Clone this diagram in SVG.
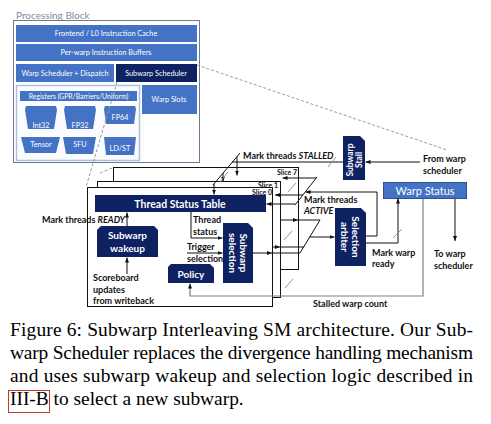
<svg xmlns="http://www.w3.org/2000/svg" width="491" height="424" viewBox="0 0 491 424">
<defs>
<marker id="arr" viewBox="0 0 10 10" refX="10" refY="5" markerWidth="5" markerHeight="5" markerUnits="userSpaceOnUse" orient="auto"><path d="M0,1 L10,5 L0,9 z" fill="#111"/></marker>
<marker id="arrg" viewBox="0 0 10 10" refX="10" refY="5" markerWidth="5" markerHeight="5" markerUnits="userSpaceOnUse" orient="auto"><path d="M0,1 L10,5 L0,9 z" fill="#111"/></marker>
<style>
.bar{fill:#4472C4;}
.navy{fill:#0E2160;}
.wt{fill:#fff;font-family:Lato,"Liberation Sans",sans-serif;font-size:7.3px;text-anchor:middle;}
.wb{fill:#fff;font-family:Lato,"Liberation Sans",sans-serif;font-weight:bold;text-anchor:middle;}
.lbl{fill:#111;font-family:Lato,"Liberation Sans",sans-serif;font-size:9px;font-weight:bold;}
.sl{fill:#111;font-family:Lato,"Liberation Sans",sans-serif;font-size:7px;font-weight:bold;}
.ln{fill:none;stroke:#111;stroke-width:1;}
.lg{fill:none;stroke:#808080;stroke-width:1.2;}
.bus{stroke:#8a8a8a;stroke-width:0.9;}
.dash{fill:none;stroke:#9a9a9a;stroke-width:1;stroke-dasharray:3,2;}
.box{fill:#fff;stroke:#111;stroke-width:1;}
.cap{fill:#000;font-family:"Liberation Serif","Times New Roman",serif;font-size:19.4px;}
</style>
</defs>
<rect width="491" height="424" fill="#fff"/>

<!-- Processing block -->
<g id="processing-block">
<text x="16" y="19" style="fill:#7d8aa3;font-family:Lato,'Liberation Sans',sans-serif;font-size:10px;">Processing Block</text>
<rect x="13.5" y="20.5" width="186" height="142" fill="#fff" stroke="#6b7a96" stroke-width="1"/>
</g>
<g id="frontend"><rect class="bar" x="16" y="25" width="181" height="17"/><text class="wt" x="106" y="36">Frontend / L0 Instruction Cache</text></g>
<g id="inst-buffers"><rect class="bar" x="16" y="44" width="181" height="17"/><text class="wt" x="106" y="55">Per-warp Instruction Buffers</text></g>
<g id="warp-scheduler"><rect class="bar" x="16" y="64" width="98" height="18"/><text class="wt" x="65" y="75.5">Warp Scheduler + Dispatch</text></g>
<g id="subwarp-scheduler"><rect class="navy" x="116" y="64" width="81" height="18"/><text class="wt" x="156" y="75.5">Subwarp Scheduler</text></g>
<g id="warp-slots"><rect class="bar" x="142" y="85" width="55" height="29"/><text class="wt" x="169" y="101.5">Warp Slots</text></g>
<g id="registers-box"><rect x="16.5" y="85.5" width="123" height="75" fill="#fbfcfe" stroke="#aebfdd" stroke-width="1.5"/></g>
<g id="registers"><rect class="bar" x="20" y="91" width="117" height="10"/><text class="wt" x="78.5" y="98.5" style="font-size:6.8px">Registers (GPR/Barriers/Uniform)</text></g>
<g id="int32"><polygon class="bar" points="26,106 56,106 57,110 54,129 28,129 25,110"/><text class="wt" x="41" y="127.5">Int32</text></g>
<g id="fp32"><polygon class="bar" points="65,106 95,106 96,110 93,129 67,129 64,110"/><text class="wt" x="80" y="127.5">FP32</text></g>
<g id="fp64"><polygon class="bar" points="105,106 135,106 136,109 134,124 106,124 104,109"/><text class="wt" x="120" y="119.5">FP64</text></g>
<g id="tensor"><polygon class="bar" points="21,137 60,137 56,153 25,153"/><text class="wt" x="41" y="146.5">Tensor</text></g>
<g id="sfu"><polygon class="bar" points="63,137 96,137 93,154 66,154"/><text class="wt" x="80" y="146.5">SFU</text></g>
<g id="ldst"><polygon class="bar" points="104,137 136,137 134,155 106,155"/><text class="wt" x="120" y="150.5">LD/ST</text></g>

<!-- Slices -->
<g id="slice-7"><rect class="box" x="113.5" y="167.5" width="185" height="102"/><text class="sl" x="277" y="175">Slice 7</text></g>
<g id="slice-1"><rect class="box" x="97.5" y="181.5" width="183" height="116"/><text class="sl" x="258" y="187.5">Slice 1</text></g>
<g id="slice-0"><rect class="box" x="87.5" y="187.5" width="185" height="119"/><text class="sl" x="252" y="194.5">Slice 0</text></g>

<g id="thread-status-table"><rect class="navy" x="95" y="195" width="171" height="17"/><text class="wb" x="180" y="207.5" style="font-size:10.5px">Thread Status Table</text></g>
<g id="subwarp-wakeup"><path class="navy" d="M101,226 H154 L158,230 V257 H97 V230 Z"/><text class="wb" style="font-size:10px"><tspan x="127.5" y="239">Subwarp</tspan><tspan x="127.5" y="252">wakeup</tspan></text></g>
<g id="policy"><path class="navy" d="M171,264 H210 L214,268 V283 H168 V267 Z"/><text class="wb" x="191" y="277.5" style="font-size:10px">Policy</text></g>
<g id="subwarp-selection"><path class="navy" d="M223,223 H248 L253,228 V283 H223 Z"/><text class="wb" style="font-size:10px" transform="translate(238,253) rotate(90)"><tspan x="0" y="-1.5">Subwarp</tspan><tspan x="0" y="9.5">selection</tspan></text></g>
<g id="selection-arbiter"><path class="navy" d="M335,208 H361 L366,213 V266 H335 Z"/><text class="wb" style="font-size:10px" transform="translate(350.5,237) rotate(90)"><tspan x="0" y="-1.5">Selection</tspan><tspan x="0" y="9.5">arbiter</tspan></text></g>
<g id="subwarp-stall"><path class="navy" d="M343,136 H360 L365,141 V180 H343 Z"/><text class="wb" style="font-size:8.5px" transform="translate(354,160) rotate(-90)"><tspan x="0" y="-1">Subwarp</tspan><tspan x="0" y="8">Stall</tspan></text></g>
<g id="warp-status"><rect x="383.5" y="182.5" width="83" height="16" fill="#4472C4" stroke="#2f528f" stroke-width="1"/><text class="wb" x="425" y="194.5" style="font-size:11px;font-weight:normal">Warp Status</text></g>

<!-- Connectors -->
<g id="connectors">
<line class="dash" x1="197" y1="65" x2="447" y2="150"/>
<line class="dash" x1="117" y1="82" x2="86" y2="187"/>
<line class="dash" x1="100" y1="173" x2="112" y2="168"/>

<line class="ln" x1="127" y1="226" x2="127" y2="212.5" marker-end="url(#arr)"/>
<line class="ln" x1="127" y1="274" x2="127" y2="257.5" marker-end="url(#arr)"/>
<path class="ln" d="M191,212 V238 H222.5" marker-end="url(#arr)"/>
<line class="ln" x1="187" y1="253" x2="222.5" y2="253" marker-end="url(#arr)"/>
<path class="lg" d="M423,199 V296 H190 V283.5" marker-end="url(#arrg)"/>

<!-- selection outputs -->
<line class="ln" x1="253" y1="253" x2="272" y2="253" marker-end="url(#arr)"/>
<line class="ln" x1="272" y1="253" x2="300" y2="253"/>
<line class="ln" x1="273" y1="247" x2="280" y2="247" marker-end="url(#arr)"/>
<line class="ln" x1="280" y1="247" x2="304" y2="247"/>
<line class="ln" x1="281" y1="220" x2="298" y2="220" marker-end="url(#arr)"/>
<line class="ln" x1="298" y1="220" x2="320" y2="220"/>
<line class="ln" x1="300" y1="253" x2="320" y2="220"/>
<line class="ln" x1="310" y1="237" x2="334.5" y2="237" marker-end="url(#arr)"/>
<line class="bus" x1="284" y1="240" x2="292" y2="231"/>
<line class="bus" x1="285" y1="288" x2="293" y2="279"/>

<!-- mark active -->
<path class="ln" d="M366,236 H377 V192 H305.5" marker-end="url(#arr)"/>
<line class="ln" x1="295" y1="205" x2="317" y2="177"/>
<line class="ln" x1="316" y1="178" x2="282.5" y2="178" marker-end="url(#arr)"/>
<line class="ln" x1="303" y1="195" x2="275" y2="195" marker-end="url(#arr)"/>
<line class="ln" x1="295" y1="204" x2="266.5" y2="204" marker-end="url(#arr)"/>
<line class="bus" x1="288" y1="192" x2="296" y2="183"/>

<!-- warp ready / warp status -->
<path class="ln" d="M366,243 H398 V198.5" marker-end="url(#arr)"/>
<line class="bus" x1="393" y1="238" x2="402" y2="229"/>
<line class="ln" x1="455" y1="199" x2="455" y2="241" marker-end="url(#arr)"/>
<line class="ln" x1="420" y1="162" x2="365.5" y2="162" marker-end="url(#arr)"/>

<!-- mark stalled -->
<line class="ln" x1="343" y1="162" x2="232" y2="162"/>
<line class="ln" x1="240" y1="153" x2="213" y2="185"/>
<line class="ln" x1="237" y1="156.5" x2="237" y2="175.5" marker-end="url(#arr)"/>
<line class="ln" x1="223" y1="173" x2="223" y2="181.5" marker-end="url(#arr)"/>
<line class="ln" x1="214" y1="184" x2="214" y2="194.5" marker-end="url(#arr)"/>
<line class="bus" x1="220" y1="182" x2="228" y2="172"/>
<line class="bus" x1="328" y1="167" x2="336" y2="157"/>
</g>

<!-- Labels -->
<g id="labels">
<text class="lbl" x="243" y="159">Mark threads <tspan font-style="italic">STALLED</tspan></text>
<text class="lbl" x="423" y="162">From warp</text>
<text class="lbl" x="423" y="173.5">scheduler</text>
<text class="lbl" x="304" y="203">Mark threads</text>
<text class="lbl" x="304" y="214" font-style="italic">ACTIVE</text>
<text class="lbl" x="42" y="223">Mark threads <tspan font-style="italic">READY</tspan></text>
<text class="lbl" x="193" y="223">Thread</text>
<text class="lbl" x="193" y="235">status</text>
<text class="lbl" x="187" y="250">Trigger</text>
<text class="lbl" x="187" y="262">selection</text>
<text class="lbl" x="93" y="281">Scoreboard</text>
<text class="lbl" x="93" y="292.5">updates</text>
<text class="lbl" x="93" y="304">from writeback</text>
<text class="lbl" x="372" y="256">Mark warp</text>
<text class="lbl" x="372" y="267">ready</text>
<text class="lbl" x="434" y="257">To warp</text>
<text class="lbl" x="434" y="268.5">scheduler</text>
<text class="lbl" x="313" y="307">Stalled warp count</text>
</g>

<!-- Caption -->
<g id="caption">
<text class="cap" x="10" y="335.5" textLength="463" lengthAdjust="spacing">Figure 6: Subwarp Interleaving SM architecture. Our Sub-</text>
<text class="cap" x="10" y="358.5" textLength="463" lengthAdjust="spacing">warp Scheduler replaces the divergence handling mechanism</text>
<text class="cap" x="10" y="381.5" textLength="463" lengthAdjust="spacing">and uses subwarp wakeup and selection logic described in</text>
<text class="cap" x="10" y="404.5">III-B to select a new subwarp.</text>
<rect x="8.5" y="390.5" width="41" height="22" fill="none" stroke="#c0392b" stroke-width="1"/>
</g>
</svg>
